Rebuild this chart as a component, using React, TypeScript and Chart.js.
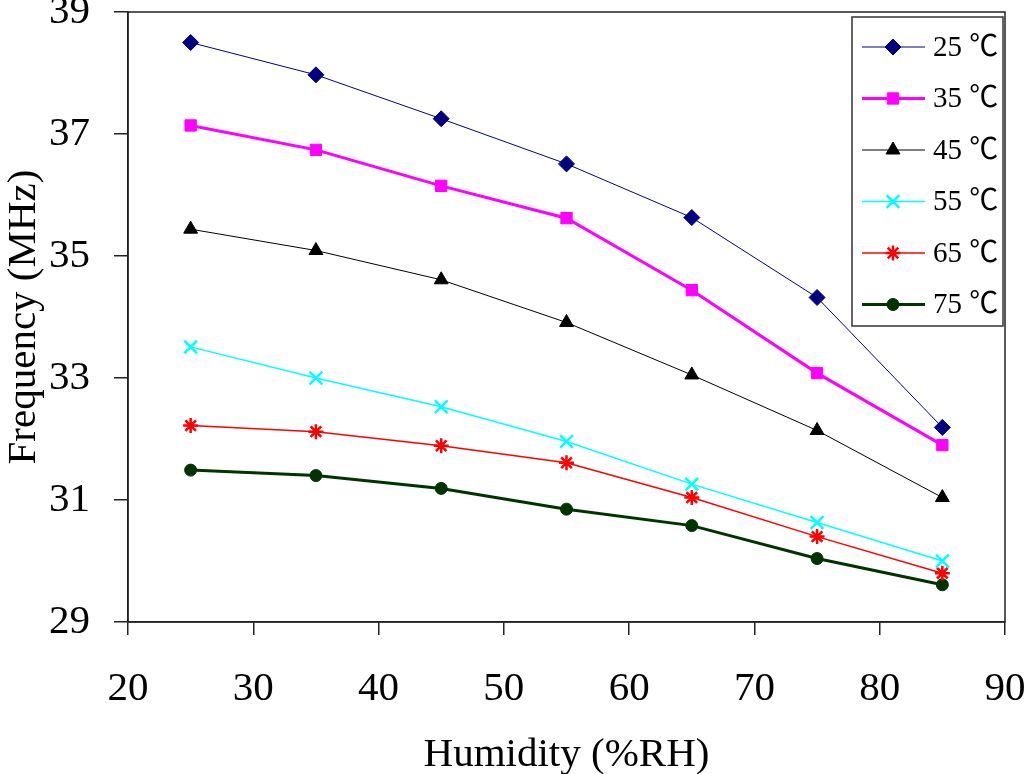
import React, { useEffect, useRef } from 'react';
import { Chart, registerables } from 'chart.js';
import { drawPoint } from 'chart.js/helpers';

Chart.register(...registerables);

// humidity (%RH) on the x axis
const humidity = [25, 35, 45, 55, 65, 75, 85];

// frequency (MHz) per temperature
const freq25 = [38.5, 37.97, 37.25, 36.51, 35.63, 34.32, 32.19];
const freq35 = [37.14, 36.74, 36.15, 35.62, 34.44, 33.08, 31.9];
const freq45 = [35.44, 35.09, 34.61, 33.91, 33.05, 32.14, 31.04];
const freq55 = [33.51, 33.0, 32.53, 31.96, 31.26, 30.63, 30.0];
const freq65 = [32.22, 32.12, 31.89, 31.61, 31.04, 30.4, 29.8];
const freq75 = [31.49, 31.4, 31.19, 30.85, 30.58, 30.04, 29.61];

const seriesLabels = ['25 ℃', '35 ℃', '45 ℃', '55 ℃', '65 ℃', '75 ℃'];

const xTickValues = [20, 30, 40, 50, 60, 70, 80, 90];
const yTickValues = [29, 31, 33, 35, 37, 39];

const FONT = "'Liberation Serif', 'Times New Roman', 'Noto Sans CJK SC', serif";

// frame around plot + legend box inside the top right corner
const framePlugin = {
  id: 'frameAndLegend',
  afterDraw(chart: any) {
    const ctx = chart.ctx;
    const { left, top, right, bottom } = chart.chartArea;
    ctx.save();
    ctx.strokeStyle = '#222';
    ctx.lineWidth = 1.5;
    ctx.strokeRect(left, top, right - left, bottom - top);

    const bx = right - 153;
    const by = top + 5;
    const bw = 151;
    const bh = 309;
    ctx.fillStyle = '#fff';
    ctx.fillRect(bx, by, bw, bh);
    ctx.strokeStyle = '#333';
    ctx.lineWidth = 1.5;
    ctx.strokeRect(bx, by, bw, bh);

    chart.data.datasets.forEach((ds: any, i: number) => {
      const y = by + 30 + i * 51.5;
      ctx.strokeStyle = ds.borderColor;
      ctx.lineWidth = ds.borderWidth;
      ctx.beginPath();
      ctx.moveTo(bx + 10, y);
      ctx.lineTo(bx + 73, y);
      ctx.stroke();
      ctx.fillStyle = ds.pointBackgroundColor;
      ctx.strokeStyle = ds.pointBorderColor;
      ctx.lineWidth = ds.pointBorderWidth;
      drawPoint(ctx, {
        pointStyle: ds.pointStyle,
        rotation: 0,
        radius: ds.pointRadius,
        borderWidth: ds.pointBorderWidth,
      } as any, bx + 41, y);
      ctx.fillStyle = '#000';
      ctx.font = `29px ${FONT}`;
      ctx.textBaseline = 'middle';
      ctx.textAlign = 'left';
      ctx.fillText(ds.label, bx + 81, y + 1);
    });
    ctx.restore();
  },
};

function makeSet(label: string, values: number[], color: string, width: number, style: string, radius: number, pbw: number) {
  return {
    label,
    data: humidity.map((h, i) => ({ x: h, y: values[i] })),
    borderColor: color,
    backgroundColor: color,
    borderWidth: width,
    pointStyle: style,
    pointRadius: radius,
    pointBackgroundColor: color,
    pointBorderColor: color,
    pointBorderWidth: pbw,
    tension: 0,
  };
}

const App: React.FC = () => {
  const canvasRef = useRef<HTMLCanvasElement>(null);
  const chartRef = useRef<Chart | null>(null);

  useEffect(() => {
    document.body.style.margin = '0';
    if (!canvasRef.current) return;
    const ctx = canvasRef.current.getContext('2d');
    if (!ctx) return;

    if (chartRef.current) {
      chartRef.current.destroy();
      chartRef.current = null;
    }

    Chart.defaults.font.family = FONT;
    Chart.defaults.color = '#000';

    chartRef.current = new Chart(ctx, {
      type: 'line',
      data: {
        datasets: [
          makeSet(seriesLabels[0], freq25, '#000080', 1, 'rectRot', 8, 1),
          makeSet(seriesLabels[1], freq35, '#FF00FF', 3, 'rect', 8, 1),
          makeSet(seriesLabels[2], freq45, '#000000', 1, 'triangle', 8, 1),
          makeSet(seriesLabels[3], freq55, '#00FFFF', 1.5, 'crossRot', 9, 2.5),
          makeSet(seriesLabels[4], freq65, '#FF0000', 1.5, 'star', 7.5, 2.5),
          makeSet(seriesLabels[5], freq75, '#003300', 3, 'circle', 6, 1),
        ] as any,
      },
      options: {
        animation: false,
        responsive: false,
        layout: { padding: { top: 12, right: 19, left: 0, bottom: 0 } },
        plugins: {
          legend: { display: false },
          tooltip: { enabled: false },
        },
        scales: {
          x: {
            type: 'linear',
            min: 20,
            max: 90,
            afterBuildTicks: (scale: any) => {
              scale.ticks = xTickValues.map((v) => ({ value: v }));
            },
            afterFit: (scale: any) => {
              scale.height = 152;
              scale.paddingLeft = 0;
              scale.paddingRight = 0;
            },
            grid: {
              display: true,
              drawOnChartArea: false,
              drawTicks: true,
              tickLength: 13,
              color: '#222',
              lineWidth: 1.5,
            },
            border: { display: true, color: '#222', width: 1.5 },
            ticks: { font: { size: 41 }, padding: 30, maxRotation: 0, color: '#000' },
            title: {
              display: true,
              text: 'Humidity (%RH)',
              font: { size: 41 },
              color: '#000',
              padding: { top: 0, bottom: -6 },
            },
          },
          y: {
            type: 'linear',
            min: 29,
            max: 39,
            afterBuildTicks: (scale: any) => {
              scale.ticks = yTickValues.map((v) => ({ value: v }));
            },
            afterFit: (scale: any) => {
              scale.width = 128;
              scale.paddingTop = 0;
              scale.paddingBottom = 0;
            },
            grid: {
              display: true,
              drawOnChartArea: false,
              drawTicks: true,
              tickLength: 14,
              color: '#222',
              lineWidth: 1.5,
            },
            border: { display: true, color: '#222', width: 1.5 },
            ticks: { font: { size: 41 }, padding: 24, color: '#000' },
            title: {
              display: true,
              text: 'Frequency (MHz)',
              font: { size: 41 },
              color: '#000',
              padding: { top: 0, bottom: 0 },
            },
          },
        },
      },
      plugins: [framePlugin],
    } as any);

    return () => {
      if (chartRef.current) {
        chartRef.current.destroy();
        chartRef.current = null;
      }
    };
  }, []);

  return (
    <div style={{ width: 1024, height: 774, background: '#fff' }}>
      <canvas ref={canvasRef} width={1024} height={774}></canvas>
    </div>
  );
};

export default App;
